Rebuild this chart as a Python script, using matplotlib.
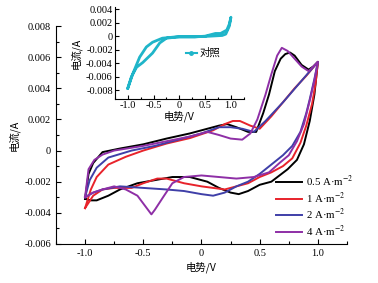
import matplotlib
matplotlib.use('Agg')
import matplotlib.pyplot as plt
from matplotlib.lines import Line2D
from matplotlib.ticker import MultipleLocator, FuncFormatter

plt.rcParams['font.family'] = ['Liberation Serif', 'Noto Sans CJK SC']
plt.rcParams['mathtext.fontset'] = 'stix'
plt.rcParams['axes.unicode_minus'] = True

# CV curves: forward (anodic) and reverse (cathodic) sweeps
black_fwd_E = [-1.0, -0.97, -0.93, -0.85, -0.7, -0.5, -0.3, -0.1, 0.05, 0.15, 0.22, 0.3, 0.4, 0.47,
               0.53, 0.58, 0.63, 0.68, 0.72, 0.76, 0.8, 0.86, 0.92, 0.96, 1.0]
black_fwd_I = [-0.0031, -0.0015, -0.0008, -0.0001, 0.00013, 0.0004, 0.00077, 0.0011, 0.0014, 0.0016,
               0.0017, 0.0015, 0.0012, 0.0012, 0.0024, 0.0036, 0.0051, 0.0059, 0.0062, 0.0063, 0.0061,
               0.0055, 0.0052, 0.0054, 0.0057]
black_rev_E = [1.0, 0.97, 0.93, 0.88, 0.82, 0.74, 0.67, 0.6, 0.5, 0.4, 0.32, 0.25, 0.15, 0.05, -0.1,
               -0.25, -0.4, -0.55, -0.7, -0.8, -0.9, -0.95, -1.0]
black_rev_I = [0.0057, 0.0036, 0.0019, 0.0004, -0.0006, -0.0012, -0.0016, -0.002, -0.0022, -0.0026,
               -0.0028, -0.0027, -0.0024, -0.002, -0.0017, -0.0017, -0.0019, -0.0021, -0.0025, -0.0029,
               -0.0032, -0.0032, -0.0031]

red_fwd_E = [-1.0, -0.95, -0.9, -0.8, -0.65, -0.5, -0.3, -0.1, 0.1, 0.2, 0.27, 0.33, 0.42, 0.5, 0.6,
             0.7, 0.8, 0.9, 1.0]
red_fwd_I = [-0.0037, -0.0025, -0.0017, -0.0009, -0.0004, 0.0, 0.00045, 0.0008, 0.0013, 0.0017, 0.0019,
             0.0019, 0.0016, 0.0014, 0.0022, 0.0031, 0.004, 0.0048, 0.0057]
red_rev_E = [1.0, 0.98, 0.95, 0.9, 0.85, 0.78, 0.7, 0.6, 0.5, 0.4, 0.3, 0.2, 0.1, 0.0, -0.15, -0.3,
             -0.38, -0.5, -0.6, -0.75, -0.85, -0.93, -1.0]
red_rev_I = [0.0057, 0.0043, 0.003, 0.0016, 0.0005, -0.0005, -0.001, -0.0014, -0.0017, -0.0021,
             -0.0023, -0.0025, -0.0024, -0.0023, -0.0021, -0.0018, -0.0018, -0.0021, -0.0024, -0.0024,
             -0.0025, -0.0029, -0.0037]

blue_fwd_E = [-1.0, -0.96, -0.9, -0.8, -0.6, -0.4, -0.2, 0.0, 0.15, 0.25, 0.35, 0.45, 0.55, 0.7, 0.85, 1.0]
blue_fwd_I = [-0.003, -0.0019, -0.0011, -0.00045, 0.0, 0.0003, 0.0007, 0.0011, 0.0015, 0.0015, 0.0014,
              0.0012, 0.0019, 0.0031, 0.0044, 0.0057]
blue_rev_E = [1.0, 0.97, 0.93, 0.9, 0.85, 0.78, 0.7, 0.6, 0.5, 0.4, 0.3, 0.2, 0.1, 0.0, -0.15, -0.3,
              -0.5, -0.7, -0.85, -0.93, -1.0]
blue_rev_I = [0.0057, 0.0046, 0.0033, 0.0024, 0.0012, 0.0003, -0.0003, -0.0009, -0.0015, -0.002,
              -0.0023, -0.0027, -0.0029, -0.0028, -0.0026, -0.0025, -0.0024, -0.0023, -0.0025, -0.0027,
              -0.003]

purple_fwd_E = [-1.0, -0.97, -0.92, -0.85, -0.75, -0.5, -0.3, -0.1, 0.05, 0.15, 0.25, 0.35, 0.42, 0.48,
                0.55, 0.6, 0.65, 0.69, 0.74, 0.8, 0.86, 0.92, 0.96, 1.0]
purple_fwd_I = [-0.003, -0.0012, -0.0006, -0.00026, 0.0, 0.0003, 0.0006, 0.0009, 0.0012, 0.001, 0.00077,
                0.0007, 0.0011, 0.002, 0.0036, 0.0049, 0.0061, 0.0066, 0.0064, 0.0059, 0.0054, 0.0051,
                0.0054, 0.0057]
purple_rev_E = [1.0, 0.97, 0.93, 0.88, 0.82, 0.75, 0.67, 0.58, 0.45, 0.3, 0.15, 0.0, -0.15, -0.25, -0.33,
                -0.4, -0.43, -0.48, -0.55, -0.65, -0.75, -0.85, -0.93, -1.0]
purple_rev_I = [0.0057, 0.0045, 0.0032, 0.0017, 0.0006, -0.0003, -0.0008, -0.0014, -0.0017, -0.0018,
                -0.0017, -0.0016, -0.0017, -0.0021, -0.003, -0.0038, -0.0041, -0.0036, -0.0029, -0.0025,
                -0.0023, -0.0025, -0.0027, -0.003]

# control sample (inset)
ctrl_a_E = [-1.0, -0.9, -0.77, -0.64, -0.52, -0.33, -0.06, 0.3, 0.5, 0.7, 0.8, 0.92, 0.97, 1.0]
ctrl_a_I = [-0.0077, -0.0055, -0.0031, -0.0016, -0.0009, -0.0003, -0.0001, -0.0001, 0.0, 0.0004, 0.0004,
            0.0009, 0.0018, 0.0028]
ctrl_b_E = [1.0, 0.97, 0.9, 0.83, 0.6, 0.3, 0.0, -0.25, -0.38, -0.52, -0.71, -0.83, -0.93, -1.0]
ctrl_b_I = [0.0028, 0.0015, 0.0003, 0.0001, 0.0, -0.0001, -0.0001, -0.0003, -0.001, -0.0025, -0.0039,
            -0.0046, -0.006, -0.0077]

labels = ['0.5 A·m$^{-2}$', '1 A·m$^{-2}$', '2 A·m$^{-2}$', '4 A·m$^{-2}$']
colors = ['black', '#e8232b', '#3f3fa8', '#8e2fa6']
curves = [(black_fwd_E + black_rev_E, black_fwd_I + black_rev_I),
          (red_fwd_E + red_rev_E, red_fwd_I + red_rev_I),
          (blue_fwd_E + blue_rev_E, blue_fwd_I + blue_rev_I),
          (purple_fwd_E + purple_rev_E, purple_fwd_I + purple_rev_I)]
ctrl_color = '#1fb5c9'


def fmt_num(dec):
    def f(v, pos):
        if abs(v) < 1e-12:
            return '0'
        return ('%.' + str(dec) + 'f') % v
    return FuncFormatter(f)


fig = plt.figure(figsize=(3.78, 2.83), dpi=100)
ax = fig.add_axes([0.148, 0.138, 0.770, 0.770])

for (E, I), c, lab in zip(curves, colors, labels):
    ax.plot(E, I, color=c, lw=1.4, label=lab, solid_joinstyle='round')

ax.set_xlim(-1.25, 1.25)
ax.set_ylim(-0.006, 0.008)
ax.xaxis.set_major_locator(MultipleLocator(0.5))
ax.xaxis.set_minor_locator(MultipleLocator(0.25))
ax.yaxis.set_major_locator(MultipleLocator(0.002))
ax.yaxis.set_minor_locator(MultipleLocator(0.001))
ax.xaxis.set_major_formatter(fmt_num(1))
ax.yaxis.set_major_formatter(fmt_num(3))
ax.tick_params(which='both', direction='in', labelsize=7.5, width=0.8)
ax.tick_params(which='major', length=3.5)
ax.tick_params(which='minor', length=2)
for s in ['top', 'right']:
    ax.spines[s].set_visible(False)
ax.set_xlabel('电势/V', family=['Noto Sans CJK SC'], fontsize=7.5, labelpad=3)
ax.set_ylabel('电流/A', family=['Noto Sans CJK SC'], fontsize=7.5, labelpad=3)

ax.legend(loc='lower left', bbox_to_anchor=(0.74, 0.005), frameon=False, fontsize=7.8,
          handlelength=2.4, labelspacing=0.12, handletextpad=0.4, borderaxespad=0)

# inset
axin = fig.add_axes([0.304, 0.650, 0.341, 0.325])
axin.plot(ctrl_a_E + ctrl_b_E, ctrl_a_I + ctrl_b_I, color=ctrl_color, lw=2.0, solid_joinstyle='round')
axin.set_xlim(-1.25, 1.25)
axin.set_ylim(-0.0093, 0.0043)
axin.xaxis.set_major_locator(MultipleLocator(0.5))
axin.xaxis.set_minor_locator(MultipleLocator(0.25))
axin.yaxis.set_major_locator(MultipleLocator(0.002))
axin.xaxis.set_major_formatter(fmt_num(1))
axin.yaxis.set_major_formatter(fmt_num(3))
axin.tick_params(which='both', direction='in', labelsize=7.5, width=0.8, pad=1.5)
axin.tick_params(which='major', length=3)
axin.tick_params(which='minor', length=1.5)
for s in ['top', 'right']:
    axin.spines[s].set_visible(False)
axin.patch.set_alpha(0)
axin.set_xlabel('电势/V', family=['Noto Sans CJK SC'], fontsize=7.5, labelpad=0)
axin.set_ylabel('电流/A', family=['Noto Sans CJK SC'], fontsize=7.5, labelpad=3)
proxy = Line2D([], [], color=ctrl_color, lw=1.5, marker='o', ms=2.5)
axin.legend([proxy], ['对照'], loc='center left', bbox_to_anchor=(0.52, 0.5), frameon=False,
            handlelength=1.0, handletextpad=0.3, borderaxespad=0,
            prop={'family': ['Noto Sans CJK SC'], 'size': 7.5})

fig.savefig('out.png', dpi=100)
